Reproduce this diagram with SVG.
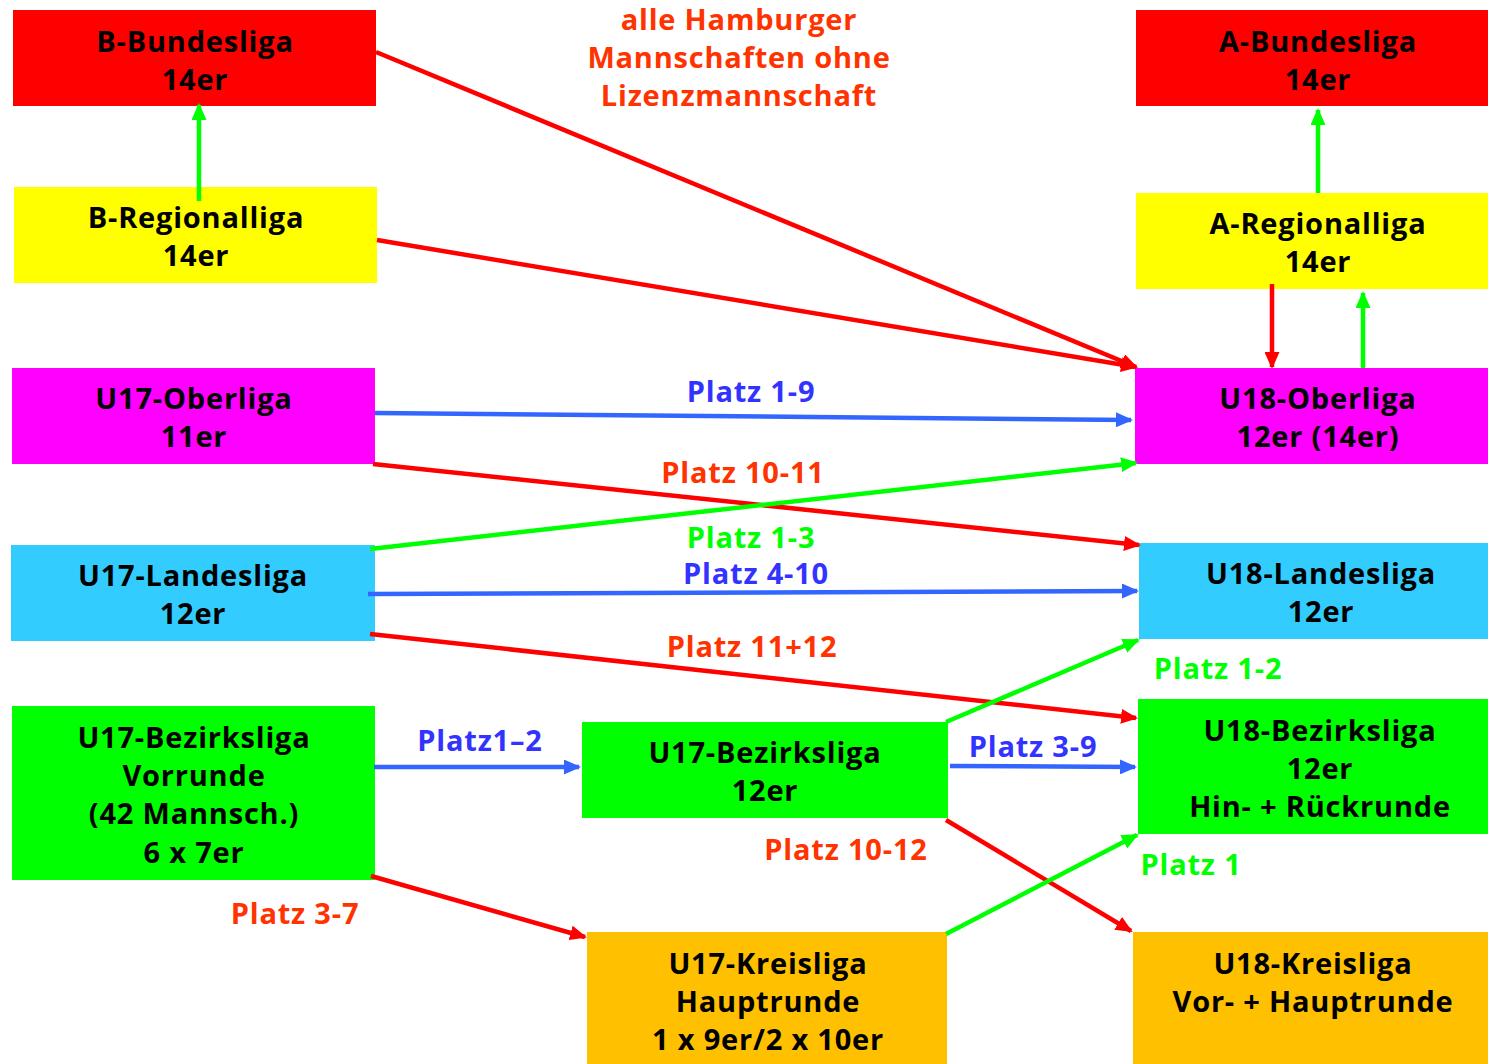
<svg xmlns="http://www.w3.org/2000/svg" width="1488" height="1064" viewBox="0 0 1488 1064">
<style>
text{font-family:"Open Sans",Lato,"Liberation Sans",sans-serif;font-weight:bold;font-size:29px;letter-spacing:0.8px;text-anchor:middle}
.n{fill:#000}
.lr{fill:#ff3300}
.lb{fill:#3333ff}
.lg{fill:#00ff00}
.c{fill:none;stroke-width:4.5}
.r{stroke:#ff0000}
.b{stroke:#3366ff}
.g{stroke:#00ff00}
</style>
<defs>
<marker id="ar" viewBox="0 0 17 15" markerWidth="17" markerHeight="15" refX="15" refY="7.5" orient="auto" markerUnits="userSpaceOnUse"><path d="M0,0L17,7.5L0,15z" fill="#ff0000"/></marker>
<marker id="ab" viewBox="0 0 17 15" markerWidth="17" markerHeight="15" refX="15" refY="7.5" orient="auto" markerUnits="userSpaceOnUse"><path d="M0,0L17,7.5L0,15z" fill="#3366ff"/></marker>
<marker id="ag" viewBox="0 0 17 15" markerWidth="17" markerHeight="15" refX="15" refY="7.5" orient="auto" markerUnits="userSpaceOnUse"><path d="M0,0L17,7.5L0,15z" fill="#00ff00"/></marker>
</defs>
<rect width="1488" height="1064" fill="#fff"/>
<g id="title">
<text class="lr" x="739" y="30">alle Hamburger</text>
<text class="lr" x="739" y="68">Mannschaften ohne</text>
<text class="lr" x="739" y="106">Lizenzmannschaft</text>
</g>
<g id="b-bundesliga"><rect x="13" y="10" width="363" height="96" fill="#ff0000"/><text class="n" x="195" y="52">B-Bundesliga</text><text class="n" x="195" y="90">14er</text></g>
<g id="b-regionalliga"><rect x="14" y="187" width="363" height="96" fill="#ffff00"/><text class="n" x="196" y="228">B-Regionalliga</text><text class="n" x="196" y="266">14er</text></g>
<g id="a-bundesliga"><rect x="1136" y="10" width="352" height="96" fill="#ff0000"/><text class="n" x="1318" y="52">A-Bundesliga</text><text class="n" x="1318" y="90">14er</text></g>
<g id="a-regionalliga"><rect x="1136" y="193" width="352" height="96" fill="#ffff00"/><text class="n" x="1318" y="234">A-Regionalliga</text><text class="n" x="1318" y="272">14er</text></g>
<g id="u17-oberliga"><rect x="12" y="368" width="363" height="96" fill="#ff00ff"/><text class="n" x="194" y="409">U17-Oberliga</text><text class="n" x="194" y="447">11er</text></g>
<g id="u18-oberliga"><rect x="1135" y="368" width="353" height="96" fill="#ff00ff"/><text class="n" x="1318" y="409">U18-Oberliga</text><text class="n" x="1318" y="447">12er (14er)</text></g>
<g id="u17-landesliga"><rect x="11" y="545" width="364" height="96" fill="#33ccff"/><text class="n" x="193" y="586">U17-Landesliga</text><text class="n" x="193" y="624">12er</text></g>
<g id="u18-landesliga"><rect x="1139" y="543" width="349" height="96" fill="#33ccff"/><text class="n" x="1321" y="584">U18-Landesliga</text><text class="n" x="1321" y="622">12er</text></g>
<g id="u17-bezirksliga-vorrunde"><rect x="12" y="706" width="363" height="174" fill="#00ff00"/><text class="n" x="194" y="748">U17-Bezirksliga</text><text class="n" x="194" y="786">Vorrunde</text><text class="n" x="194" y="824">(42 Mannsch.)</text><text class="n" x="194" y="863">6 x 7er</text></g>
<g id="u17-bezirksliga"><rect x="582" y="722" width="366" height="96" fill="#00ff00"/><text class="n" x="765" y="763">U17-Bezirksliga</text><text class="n" x="765" y="801">12er</text></g>
<g id="u18-bezirksliga"><rect x="1138" y="699" width="350" height="135" fill="#00ff00"/><text class="n" x="1320" y="741">U18-Bezirksliga</text><text class="n" x="1320" y="779">12er</text><text class="n" x="1320" y="817">Hin- + Rückrunde</text></g>
<g id="u17-kreisliga"><rect x="587" y="932" width="360" height="132" fill="#ffc000"/><text class="n" x="768" y="974">U17-Kreisliga</text><text class="n" x="768" y="1012">Hauptrunde</text><text class="n" x="768" y="1050">1 x 9er/2 x 10er</text></g>
<g id="u18-kreisliga"><rect x="1133" y="932" width="355" height="132" fill="#ffc000"/><text class="n" x="1313" y="974">U18-Kreisliga</text><text class="n" x="1313" y="1012">Vor- + Hauptrunde</text></g>
<g id="connectors">
<line class="c r" x1="376" y1="52" x2="1136" y2="367" marker-end="url(#ar)"/>
<line class="c r" x1="377" y1="240" x2="1136" y2="367" marker-end="url(#ar)"/>
<line class="c g" x1="199" y1="201" x2="199" y2="105" marker-end="url(#ag)"/>
<line class="c g" x1="1318" y1="193" x2="1318" y2="110" marker-end="url(#ag)"/>
<line class="c r" x1="1272" y1="284" x2="1272" y2="367" marker-end="url(#ar)"/>
<line class="c g" x1="1363" y1="368" x2="1363" y2="293" marker-end="url(#ag)"/>
<line class="c b" x1="375" y1="413" x2="1131" y2="420" marker-end="url(#ab)"/>
<line class="c r" x1="373" y1="464" x2="1139" y2="545" marker-end="url(#ar)"/>
<line class="c g" x1="370" y1="549" x2="1136" y2="463" marker-end="url(#ag)"/>
<line class="c b" x1="368" y1="594" x2="1137" y2="591" marker-end="url(#ab)"/>
<line class="c r" x1="370" y1="634" x2="1136" y2="718" marker-end="url(#ar)"/>
<line class="c b" x1="374" y1="767" x2="579" y2="767" marker-end="url(#ab)"/>
<line class="c r" x1="371" y1="876" x2="585" y2="937" marker-end="url(#ar)"/>
<line class="c g" x1="946" y1="722" x2="1138" y2="640" marker-end="url(#ag)"/>
<line class="c b" x1="950" y1="766" x2="1135" y2="767" marker-end="url(#ab)"/>
<line class="c r" x1="946" y1="820" x2="1131" y2="931" marker-end="url(#ar)"/>
<line class="c g" x1="946" y1="934" x2="1137" y2="835" marker-end="url(#ag)"/>
<text class="lb" x="751" y="402">Platz 1-9</text>
<text class="lr" x="743" y="483">Platz 10-11</text>
<text class="lg" x="751" y="548">Platz 1-3</text>
<text class="lb" x="756" y="584">Platz 4-10</text>
<text class="lr" x="752" y="657">Platz 11+12</text>
<text class="lb" x="480" y="751">Platz1–2</text>
<text class="lr" x="295" y="924">Platz 3-7</text>
<text class="lg" x="1218" y="679">Platz 1-2</text>
<text class="lb" x="1033" y="757">Platz 3-9</text>
<text class="lr" x="846" y="860">Platz 10-12</text>
<text class="lg" x="1191" y="875">Platz 1</text>
</g>
</svg>
